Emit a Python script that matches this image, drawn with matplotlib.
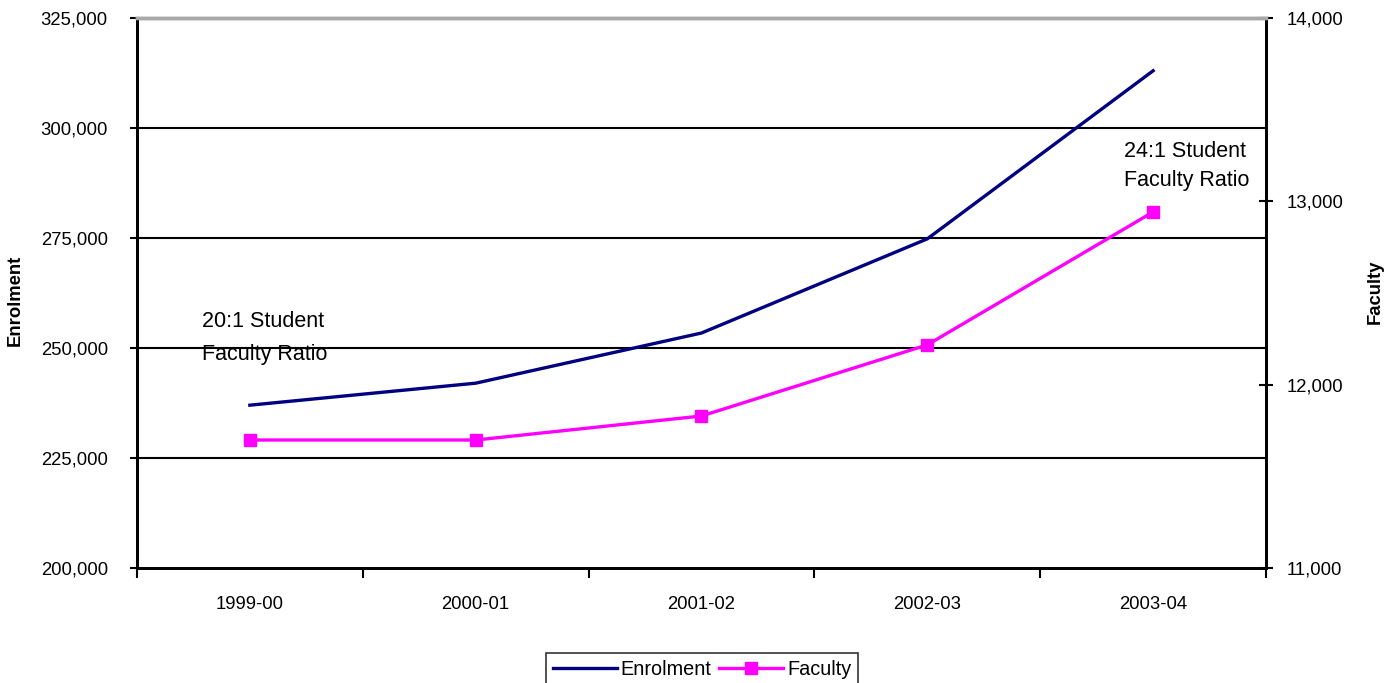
import matplotlib
matplotlib.use("Agg")
import matplotlib.pyplot as plt
from matplotlib.ticker import FuncFormatter, FixedLocator
import numpy as np

plt.rcParams["font.family"] = ["Liberation Sans", "DejaVu Sans"]

years = ["1999-00", "2000-01", "2001-02", "2002-03", "2003-04"]
enrolment = [237000, 242000, 253400, 274800, 313000]
faculty = [11698, 11698, 11829, 12217, 12942]

C_ENR = "#000080"
C_FAC = "#FF00FF"
FS = 13.3
FS_NOTE = 15.5

fig = plt.figure(figsize=(13.96, 6.83), dpi=100)
ax = fig.add_axes([0.0981, 0.1684, 0.8088, 0.8053])
ax2 = ax.twinx()

x = np.arange(len(years))
l1, = ax.plot(x, enrolment, color=C_ENR, lw=2.4, zorder=3)
l2, = ax2.plot(x, faculty, color=C_FAC, lw=2.4, marker="s", ms=9, zorder=3)

ax.set_xlim(-0.5, len(years) - 0.5)
ax.set_ylim(200000, 325000)
ax.set_yticks(np.arange(200000, 325001, 25000))
ax.yaxis.set_major_formatter(FuncFormatter(lambda v, p: f"{int(v):,}"))
ax2.set_ylim(11000, 14000)
ax2.set_yticks(np.arange(11000, 14001, 1000))
ax2.yaxis.set_major_formatter(FuncFormatter(lambda v, p: f"{int(v):,}"))

# category labels centred, tick marks on the boundaries
ax.set_xticks(x)
ax.set_xticklabels(years, fontsize=FS)
ax.tick_params(axis="x", which="major", length=0, pad=20)
ax.xaxis.set_minor_locator(FixedLocator(np.arange(-0.5, len(years), 1.0)))
ax.tick_params(axis="x", which="minor", length=7, width=1.5, direction="out")

ax.tick_params(axis="y", labelsize=FS, length=5, width=1.5, direction="out", pad=16)
ax2.tick_params(axis="y", labelsize=FS, length=10, width=1.5, direction="inout", pad=10)

for v in np.arange(225000, 325000, 25000):
    ax.axhline(v, color="black", lw=1.5, zorder=1)

for a in (ax, ax2):
    a.spines["left"].set_linewidth(2)
    a.spines["bottom"].set_linewidth(2)
    a.spines["right"].set_linewidth(2)
    a.spines["top"].set_color("#a8a8a8")
    a.spines["top"].set_linewidth(2.5)

fig.text(15 / 1396, 1 - 300 / 683, "Enrolment", fontsize=FS, fontweight="bold",
         rotation=90, ha="center", va="center")
fig.text(1375 / 1396, 1 - 292 / 683, "Faculty", fontsize=FS, fontweight="bold",
         rotation=90, ha="center", va="center")

ax2.text(-0.21, 12342, "20:1 Student", fontsize=FS_NOTE, va="center", ha="left")
ax2.text(-0.21, 12167, "Faculty Ratio", fontsize=FS_NOTE, va="center", ha="left")
ax2.text(3.87, 13270, "24:1 Student", fontsize=FS_NOTE, va="center", ha="left")
ax2.text(3.87, 13115, "Faculty Ratio", fontsize=FS_NOTE, va="center", ha="left")

leg = fig.legend([l1, l2], ["Enrolment", "Faculty"], loc="upper center",
                 bbox_to_anchor=(0.503, 0.058), ncol=2, fontsize=14.3,
                 frameon=True, fancybox=False, edgecolor="black",
                 handlelength=3.2, handletextpad=0.2, columnspacing=0.4,
                 borderpad=0.35)
leg.get_frame().set_linewidth(1.2)

fig.savefig("out.png", dpi=100)
